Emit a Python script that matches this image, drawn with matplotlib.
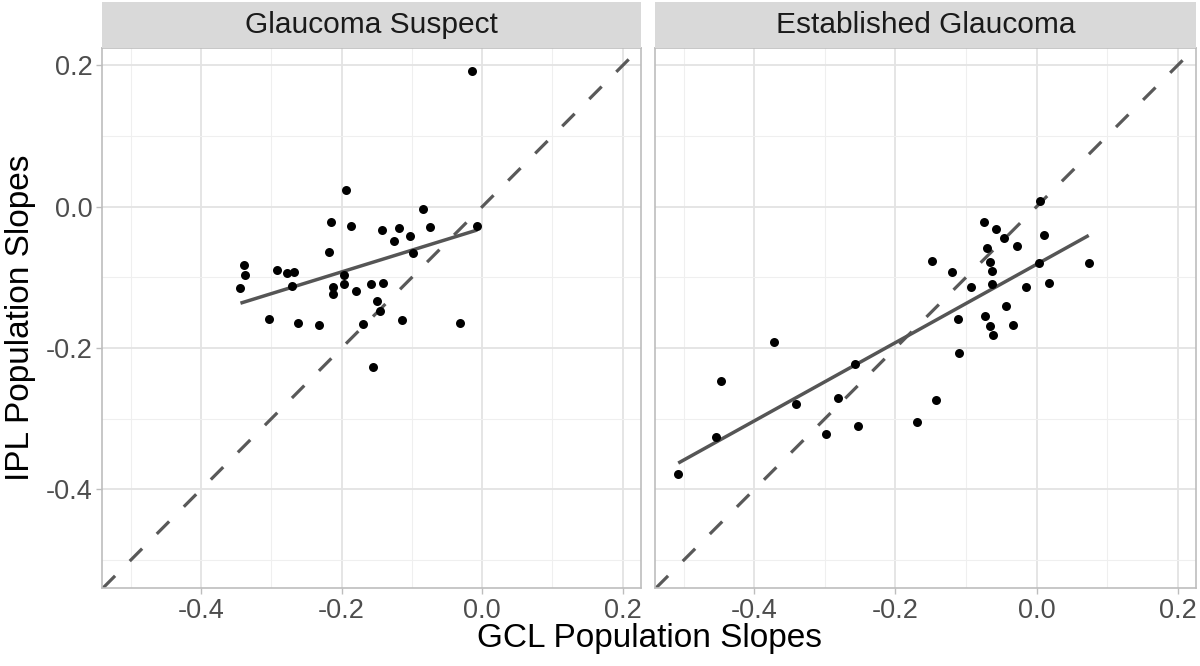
import numpy as np
import matplotlib
matplotlib.use("Agg")
import matplotlib.pyplot as plt

plt.rcParams['font.family'] = ['Liberation Sans', 'DejaVu Sans']

# panel titles
panels = ["Glaucoma Suspect", "Established Glaucoma"]

# Glaucoma Suspect (GCL slope, IPL slope)
gs_gcl = [-0.194, -0.215, -0.187, -0.084, -0.142, -0.118, -0.074, -0.007, -0.103, -0.125,
          -0.098, -0.218, -0.339, -0.338, -0.344, -0.292, -0.278, -0.268, -0.271, -0.197,
          -0.197, -0.212, -0.213, -0.180, -0.158, -0.141, -0.149, -0.145, -0.303, -0.262,
          -0.232, -0.170, -0.114, -0.032, -0.156, -0.014]
gs_ipl = [0.023, -0.022, -0.027, -0.003, -0.033, -0.030, -0.029, -0.028, -0.041, -0.048,
          -0.065, -0.064, -0.083, -0.097, -0.115, -0.089, -0.094, -0.092, -0.112, -0.097,
          -0.110, -0.114, -0.124, -0.120, -0.110, -0.108, -0.134, -0.147, -0.159, -0.164,
          -0.168, -0.166, -0.160, -0.164, -0.227, 0.192]

# Established Glaucoma
eg_gcl = [0.005, -0.075, -0.057, -0.046, -0.028, 0.010, -0.070, -0.066, -0.063, 0.004,
          0.074, -0.148, -0.120, -0.093, -0.063, -0.015, 0.017, -0.043, -0.112, -0.073,
          -0.066, -0.062, -0.033, -0.110, -0.372, -0.258, -0.448, -0.341, -0.282, -0.143,
          -0.454, -0.298, -0.253, -0.170, -0.508]
eg_ipl = [0.008, -0.022, -0.032, -0.044, -0.056, -0.040, -0.059, -0.078, -0.091, -0.080,
          -0.080, -0.077, -0.092, -0.114, -0.110, -0.113, -0.108, -0.140, -0.159, -0.155,
          -0.169, -0.181, -0.167, -0.207, -0.192, -0.222, -0.247, -0.279, -0.271, -0.274,
          -0.326, -0.321, -0.311, -0.305, -0.378]

xticks = [-0.4, -0.2, 0.0, 0.2]
yticks = [-0.4, -0.2, 0.0, 0.2]
minor = [-0.5, -0.3, -0.1, 0.1]
xlim = (-0.541, 0.226)
ylim = (-0.540, 0.225)

fig = plt.figure(figsize=(12, 6.66), dpi=100)

data = [(gs_gcl, gs_ipl), (eg_gcl, eg_ipl)]
lefts = [0.085, 0.5458]
widths = [0.4492, 0.4508]

for i in range(2):
    ax = fig.add_axes([lefts[i], 0.1167, widths[i], 0.8117])
    x = np.array(data[i][0])
    y = np.array(data[i][1])

    ax.set_xlim(xlim)
    ax.set_ylim(ylim)
    ax.set_xticks(xticks)
    ax.set_yticks(yticks)
    ax.set_xticks(minor, minor=True)
    ax.set_yticks(minor, minor=True)
    ax.grid(True, which='major', color='#E3E3E3', lw=1.3, zorder=0)
    ax.grid(True, which='minor', color='#EFEFEF', lw=0.8, zorder=0)
    ax.set_axisbelow(True)
    ax.tick_params(which='minor', length=0)
    ax.tick_params(which='major', length=4, width=1, color='#BDBDBD',
                   labelsize=19.5, labelcolor='#4D4D4D', pad=3)
    ax.set_xticklabels(["-0.4", "-0.2", "0.0", "0.2"])
    if i == 0:
        ax.set_yticklabels(["-0.4", "-0.2", "0.0", "0.2"])
    else:
        ax.set_yticklabels([])
        ax.tick_params(axis='y', length=0)
    for s in ax.spines.values():
        s.set_color('#BDBDBD')
        s.set_linewidth(1.2)

    # identity line
    ax.axline((0, 0), slope=1, color='#595959', lw=2.3,
              linestyle=(0, (5.5, 6.5)), zorder=2)

    # linear fit over the data range
    b1, b0 = np.polyfit(x, y, 1)
    xs = np.array([x.min(), x.max()])
    ax.plot(xs, b0 + b1 * xs, color='#555555', lw=2.5, zorder=3,
            solid_capstyle='butt')

    ax.scatter(x, y, s=42, color='black', zorder=4, linewidths=0)

    # strip
    sax = fig.add_axes([lefts[i], 0.1167 + 0.8117, widths[i], 0.0686])
    sax.set_facecolor('#D9D9D9')
    sax.set_xticks([])
    sax.set_yticks([])
    for s in sax.spines.values():
        s.set_visible(False)
    sax.text(0.5, 0.5, panels[i], ha='center', va='center',
             fontsize=21.5, color='#1A1A1A', transform=sax.transAxes)

fig.text(0.541, 0.042, "GCL Population Slopes", ha='center', va='center',
         fontsize=24, color='black')
fig.text(0.017, 0.523, "IPL Population Slopes", ha='center', va='center',
         rotation=90, fontsize=24, color='black')

fig.savefig("out.png", dpi=100)
